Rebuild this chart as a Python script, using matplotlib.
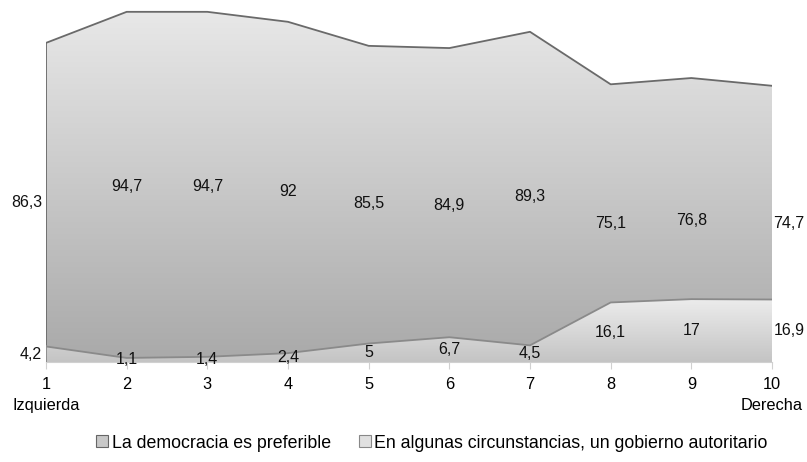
import numpy as np
import matplotlib
matplotlib.use('Agg')
import matplotlib.pyplot as plt
import matplotlib.patches as mpatches
from matplotlib.colors import LinearSegmentedColormap

plt.rcParams['font.family'] = ['Liberation Sans', 'DejaVu Sans']

positions = [1, 2, 3, 4, 5, 6, 7, 8, 9, 10]
tick_labels = ['1\nIzquierda', '2', '3', '4', '5', '6', '7', '8', '9', '10\nDerecha']
democracia = [86.3, 94.7, 94.7, 92, 85.5, 84.9, 89.3, 75.1, 76.8, 74.7]
autoritario = [4.2, 1.1, 1.4, 2.4, 5, 6.7, 4.5, 16.1, 17, 16.9]
series_names = ['La democracia es preferible',
                'En algunas circunstancias, un gobierno autoritario']


def fmt(v):
    s = ('%g' % v).replace('.', ',')
    return s


def gradient_area(ax, x, y, c_top, c_bot, edge, z):
    poly = ax.fill_between(x, 0, y, facecolor='none', edgecolor='none', zorder=z)
    cmap = LinearSegmentedColormap.from_list('g', [c_bot, c_top])
    grad = np.linspace(0, 1, 256).reshape(-1, 1)
    im = ax.imshow(grad, cmap=cmap, aspect='auto', origin='lower',
                   extent=[x[0], x[-1], 0, max(y)], zorder=z)
    path = poly.get_paths()[0]
    im.set_clip_path(path, transform=ax.transData)
    ax.plot(x, y, color=edge, lw=1.3, zorder=z + 0.5)
    ax.plot([x[0], x[0]], [0, y[0]], color=edge, lw=1.3, zorder=z + 0.5)


fig = plt.figure(figsize=(8.07, 4.62), dpi=100)
ax = fig.add_axes([46 / 807, 100 / 462, (772 - 46) / 807, 362 / 462])

gradient_area(ax, positions, democracia, '#e8e8e8', '#a9a9a9', '#6a6a6a', 1)
gradient_area(ax, positions, autoritario, '#ececec', '#c4c4c4', '#8a8a8a', 3)

ax.set_xlim(1, 10)
ax.set_ylim(0, 97.9)

for spine in ['top', 'right', 'left']:
    ax.spines[spine].set_visible(False)
ax.spines['bottom'].set_color('#d0d0d0')
ax.set_yticks([])
ax.set_xticks(positions)
ax.set_xticklabels(tick_labels, fontsize=11.8, linespacing=1.45)
ax.tick_params(axis='x', length=5, color='#d0d0d0', pad=6)
for lbl in ax.get_xticklabels():
    lbl.set_multialignment('center')

for i, x in enumerate(positions):
    for vals in (democracia, autoritario):
        v = vals[i]
        if i == 0:
            ha, dx = 'right', -0.05
        elif i == len(positions) - 1:
            ha, dx = 'left', 0.02
        else:
            ha, dx = 'center', 0
        ax.text(x + dx, v / 2, fmt(v), ha=ha, va='center', fontsize=11.5,
                color='#111111', zorder=5, clip_on=False)

handles = [mpatches.Patch(facecolor='#c8c8c8', edgecolor='#666666', lw=0.8, label=series_names[0]),
           mpatches.Patch(facecolor='#e0e0e0', edgecolor='#888888', lw=0.8, label=series_names[1])]
fig.legend(handles=handles, loc='center', bbox_to_anchor=(432 / 807, 1 - 443 / 462),
           ncol=2, frameon=False, fontsize=12.8, handlelength=0.65, handleheight=0.65,
           handletextpad=0.2, columnspacing=1.6)

fig.savefig('out.png', dpi=100)
